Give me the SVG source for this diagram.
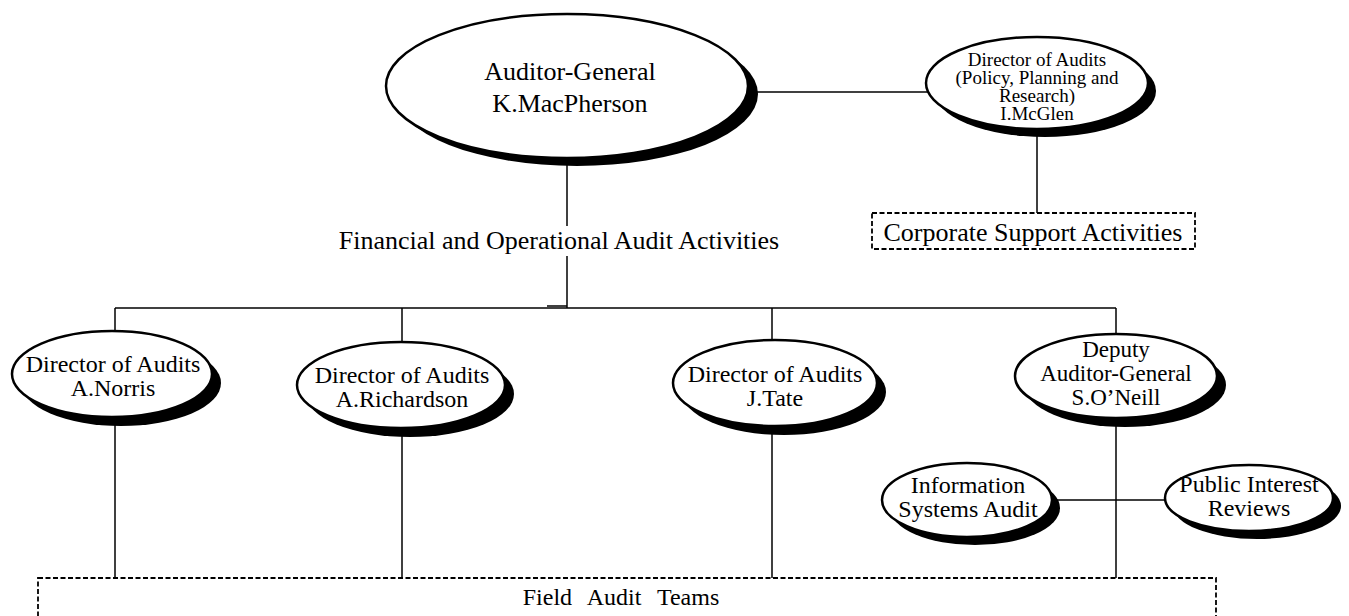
<svg xmlns="http://www.w3.org/2000/svg" width="1349" height="616" viewBox="0 0 1349 616">
<style>
.sh{fill:#000;stroke:none}
.el{fill:#fff;stroke:#000;stroke-width:2.5}
.ln{stroke:#000;stroke-width:1.5;fill:none}
.box{fill:none;stroke:#000;stroke-width:1.8;stroke-dasharray:5,2.5}
text{font-family:"Liberation Serif","Times New Roman",serif;fill:#000;text-anchor:middle}
.t26{font-size:26px}
.t24{font-size:24px}
.t23{font-size:23px}
.t19{font-size:19px}
</style>
<rect width="1349" height="616" fill="#fff"/>
<g id="connectors">
<line class="ln" x1="752" y1="92" x2="928" y2="92"/>
<line class="ln" x1="567" y1="160" x2="567" y2="226"/>
<line class="ln" x1="567" y1="256" x2="567" y2="308"/>
<line class="ln" x1="547" y1="306" x2="567" y2="306"/>
<line class="ln" x1="1037" y1="135" x2="1037" y2="213"/>
<line class="ln" x1="115" y1="308" x2="1116" y2="308"/>
<line class="ln" x1="115" y1="308" x2="115" y2="332"/>
<line class="ln" x1="402" y1="308" x2="402" y2="343"/>
<line class="ln" x1="772" y1="308" x2="772" y2="341"/>
<line class="ln" x1="1116" y1="308" x2="1116" y2="335"/>
<line class="ln" x1="115" y1="420" x2="115" y2="578"/>
<line class="ln" x1="402" y1="430" x2="402" y2="578"/>
<line class="ln" x1="772" y1="428" x2="772" y2="578"/>
<line class="ln" x1="1116" y1="420" x2="1116" y2="578"/>
<line class="ln" x1="1050" y1="500" x2="1167" y2="500"/>
</g>
<g id="auditor-general">
<ellipse class="sh" cx="577" cy="94" rx="181" ry="72"/>
<ellipse class="el" cx="567" cy="86" rx="181" ry="72"/>
<text class="t26" x="570" y="80">Auditor-General</text>
<text class="t26" x="570" y="112">K.MacPherson</text>
</g>
<g id="director-policy">
<ellipse class="sh" cx="1045" cy="91" rx="111" ry="46"/>
<ellipse class="el" cx="1037" cy="83" rx="111" ry="46"/>
<text class="t19" x="1037" y="66">Director of Audits</text>
<text class="t19" x="1037" y="84">(Policy, Planning and</text>
<text class="t19" x="1037" y="102">Research)</text>
<text class="t19" x="1037" y="120">I.McGlen</text>
</g>
<g id="corporate-support">
<rect class="box" x="872" y="213" width="323" height="36"/>
<text class="t26" x="1033" y="241">Corporate Support Activities</text>
</g>
<g id="financial-label">
<text class="t26" x="559" y="249">Financial and Operational Audit Activities</text>
</g>
<g id="norris">
<ellipse class="sh" cx="121" cy="383" rx="100" ry="43"/>
<ellipse class="el" cx="112" cy="374" rx="100" ry="43"/>
<text class="t24" x="113" y="372">Director of Audits</text>
<text class="t24" x="113" y="396">A.Norris</text>
</g>
<g id="richardson">
<ellipse class="sh" cx="410" cy="394" rx="104" ry="43"/>
<ellipse class="el" cx="401" cy="385" rx="104" ry="43"/>
<text class="t24" x="402" y="383">Director of Audits</text>
<text class="t24" x="402" y="407">A.Richardson</text>
</g>
<g id="tate">
<ellipse class="sh" cx="784" cy="392" rx="102" ry="43"/>
<ellipse class="el" cx="775" cy="383" rx="102" ry="43"/>
<text class="t24" x="775" y="382">Director of Audits</text>
<text class="t24" x="775" y="406">J.Tate</text>
</g>
<g id="deputy">
<ellipse class="sh" cx="1125" cy="385" rx="101" ry="42"/>
<ellipse class="el" cx="1116" cy="376" rx="101" ry="42"/>
<text class="t23" x="1116" y="357">Deputy</text>
<text class="t23" x="1116" y="381">Auditor-General</text>
<text class="t23" x="1116" y="405">S.O’Neill</text>
</g>
<g id="info-systems">
<ellipse class="sh" cx="975" cy="508" rx="85" ry="37"/>
<ellipse class="el" cx="967" cy="500" rx="85" ry="37"/>
<text class="t24" x="968" y="493">Information</text>
<text class="t24" x="968" y="517">Systems Audit</text>
</g>
<g id="public-interest">
<ellipse class="sh" cx="1257" cy="506" rx="84" ry="33"/>
<ellipse class="el" cx="1249" cy="498" rx="84" ry="33"/>
<text class="t24" x="1249" y="492">Public Interest</text>
<text class="t24" x="1249" y="516">Reviews</text>
</g>
<g id="field-audit">
<rect class="box" x="38" y="578" width="1178" height="60"/>
<text class="t24" x="621" y="605" style="word-spacing:10px">Field Audit Teams</text>
</g>
</svg>
